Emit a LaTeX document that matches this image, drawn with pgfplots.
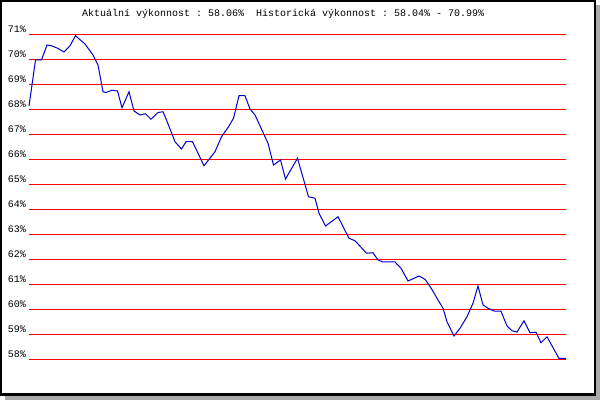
\documentclass[border=0pt]{standalone}
\usepackage{fontspec}
\setmonofont{Liberation Mono}
\usepackage{pgfplots}
\pgfplotsset{compat=1.18}

\definecolor{lineblue}{RGB}{0,0,204}
\definecolor{shadow}{RGB}{170,170,170}

\begin{document}
\begin{tikzpicture}
% page, shadow and frame (1bp = 1 pixel, origin at bottom left)
\fill[white] (0,0) rectangle (600bp,400bp);
\fill[shadow] (596bp,0) rectangle (600bp,395bp);
\fill[shadow] (5bp,0) rectangle (600bp,4bp);
\fill[black] (0,4bp) rectangle (596bp,400bp);
\fill[white] (2bp,6.5bp) rectangle (594bp,398bp);

\node[anchor=base west, inner sep=0pt, font=\ttfamily\fontsize{10bp}{12bp}\selectfont]
  at (82bp,383bp) {Aktuální výkonnost : 58.06\%~ Historická výkonnost : 58.04\% - 70.99\%};

\begin{axis}[
    at={(29bp,40bp)}, anchor=south west,
    scale only axis,
    width=537bp, height=325bp,
    xmin=29, xmax=566,
    ymin=58, ymax=71,
    xtick=\empty,
    ytick={58,59,...,71},
    yticklabel={\pgfmathprintnumber{\tick}\%},
    /pgf/number format/assume math mode=true,
    yticklabel style={font=\ttfamily\fontsize{10bp}{12bp}\selectfont,
        anchor=south east, inner sep=0pt, xshift=-3bp, yshift=2bp},
    axis line style={draw=none},
    major tick length=0pt,
    ymajorgrids=true,
    grid style={red, line width=1bp},
    clip=false,
]
% x is the horizontal pixel position of each sample
\addplot[color=lineblue, line width=1bp, mark=none] coordinates {
    (29,68.16)(32,69.0)(35.5,70.0)(41.5,70.0)(47,70.6)(51.5,70.57)(57,70.48)
    (64,70.32)(70,70.57)(75.5,70.97)(85,70.64)(93,70.2)(98,69.8)(103,68.73)
    (106,68.7)(112,68.79)(117.5,68.76)(122,68.09)(129,68.73)(134,67.96)(140,67.8)
    (145.5,67.85)(151,67.63)(158,67.9)(163,67.93)(166.5,67.6)(175,66.73)
    (181.5,66.44)(186,66.73)(192.5,66.73)(204,65.77)(215,66.33)(221.5,66.93)
    (228.5,67.33)(233.5,67.67)(239,68.57)(245,68.57)(250,68.04)(255,67.8)
    (268,66.67)(273.5,65.8)(280.5,66.0)(285.5,65.24)(297.5,66.07)(308.5,64.53)
    (315,64.47)(319,63.87)(325.5,63.36)(338,63.73)(349,62.87)(355,62.77)
    (366.5,62.27)(373,62.29)(378,62.0)(383,61.92)(395,61.92)(401,61.67)
    (408,61.16)(419,61.36)(425,61.23)(431.5,60.85)(438,60.4)(443,60.07)
    (447,59.53)(454,58.96)(460,59.27)(467,59.73)(473,60.27)(478,60.96)
    (483,60.2)(488,60.07)(494,59.96)(501,59.95)(507,59.36)(512,59.17)
    (517,59.12)(524,59.57)(530,59.09)(536,59.11)(541,58.69)(547,58.93)
    (559,58.06)(566,58.06)
};
\end{axis}
\end{tikzpicture}
\end{document}
